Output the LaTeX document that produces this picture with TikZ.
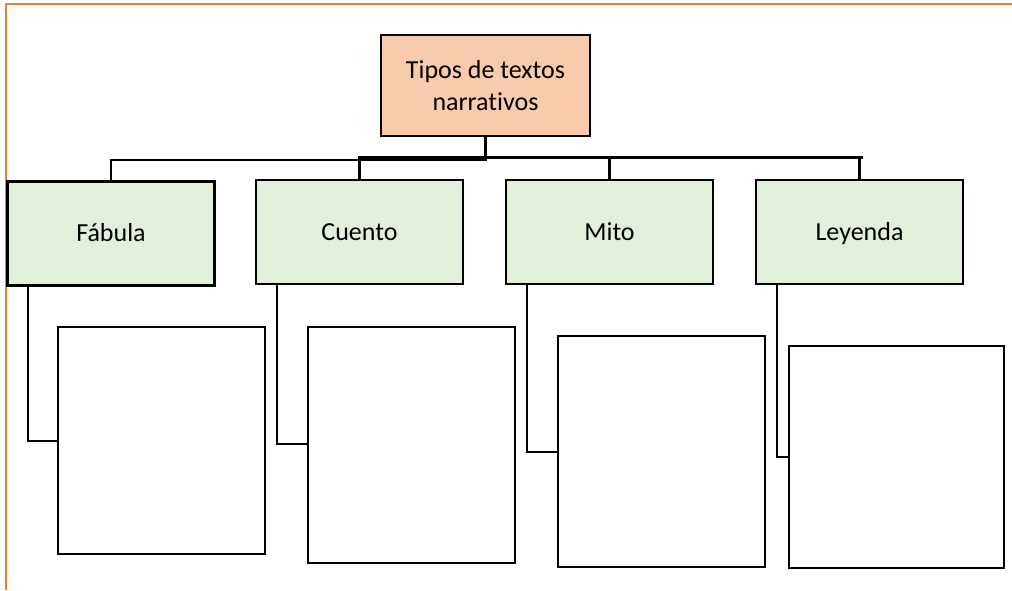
\documentclass[tikz,border=0pt]{standalone}
\usepackage{fontspec}
\setmainfont[Ligatures=NoCommon]{Carlito}
\definecolor{peach}{HTML}{F8CBAD}
\definecolor{palegreen}{HTML}{E2EFDA}
\definecolor{frameorange}{HTML}{ED7D31}
\begin{document}
\begin{tikzpicture}[x=1pt,y=-1pt,
  box/.style={draw=black,line width=2.2pt,inner sep=0pt},
  rootbox/.style={box,fill=peach,minimum width=209pt,minimum height=101pt,align=center,font=\fontsize{26}{31.5}\selectfont},
  catbox/.style={box,fill=palegreen,minimum width=207pt,minimum height=104pt,text height=16pt,text depth=0pt,font=\fontsize{26}{31.5}\selectfont},
  blankbox/.style={draw=black,line width=2.2pt,fill=white,inner sep=0pt},
  link/.style={draw=black,line width=2.2pt,line cap=rect}]
\path[use as bounding box,fill=white] (0,0) rectangle (1012,590);
\draw[frameorange,line width=2pt] (1012,4) -- (6,4) -- (6,590);
% root
\node[rootbox] (root) at (485.5,85.5) {Tipos de textos\\narrativos};
% categories
\node[catbox] (fab) at (111,233.5) {Fábula};
\node[catbox] (cue) at (359.5,232) {Cuento};
\node[catbox] (mit) at (609.5,232) {Mito};
\node[catbox] (ley) at (859.5,232) {Leyenda};
% bus coordinates
\coordinate (busL) at (111,160);
\coordinate (busM) at (485.5,160);
\coordinate (busR0) at (359.5,157.5);
\coordinate (busR1) at (862,157.5);
\draw[link] (root.south) -- (root.south |- busR0);
\draw[link] (fab.north) -- (busL) -- (busM) -- (root.south |- busR0);
\draw[link] (cue.north) -- (busR0) -- (busR1);
\draw[link] (mit.north) -- (mit.north |- busR0);
\draw[link] (ley.north) -- (ley.north |- busR1);
% blank boxes
\node[blankbox,minimum width=207pt,minimum height=227pt] (fabb) at (161.5,440.5) {};
\node[blankbox,minimum width=207pt,minimum height=236pt] (cueb) at (411.5,445) {};
\node[blankbox,minimum width=207pt,minimum height=231pt] (mitb) at (661.5,451.5) {};
\node[blankbox,minimum width=215pt,minimum height=222pt] (leyb) at (896.5,457) {};
% side connectors
\coordinate (fabc) at (28,441);
\coordinate (cuec) at (277,444);
\coordinate (mitc) at (527,452);
\coordinate (leyc) at (777,457);
\draw[link] (fab.south -| fabc) -- (fabc) -- (fabc -| fabb.west);
\draw[link] (cue.south -| cuec) -- (cuec) -- (cuec -| cueb.west);
\draw[link] (mit.south -| mitc) -- (mitc) -- (mitc -| mitb.west);
\draw[link] (ley.south -| leyc) -- (leyc) -- (leyc -| leyb.west);
\end{tikzpicture}
\end{document}
